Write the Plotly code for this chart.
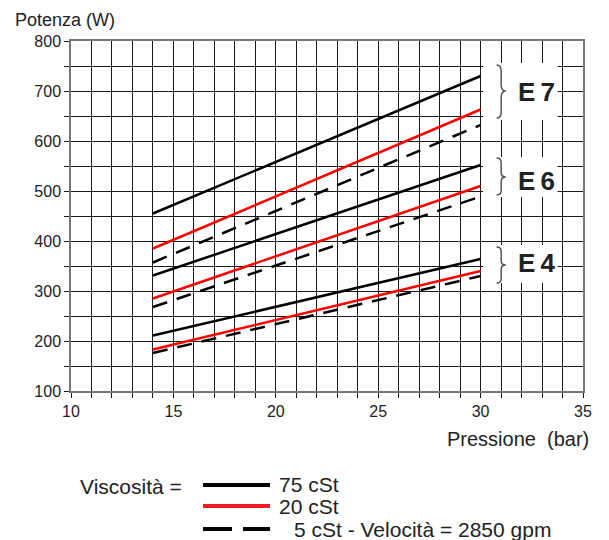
import plotly.graph_objects as go

# ---- data ----
pressure = [14, 30]
e7_75 = [455, 730]
e7_20 = [385, 663]
e7_5 = [357, 632]
e6_75 = [331, 552]
e6_20 = [285, 510]
e6_5 = [268, 489]
e4_75 = [211, 364]
e4_20 = [183, 340]
e4_5 = [176, 330]

group_names = ["E7", "E6", "E4"]
series_75 = [e7_75, e6_75, e4_75]
series_20 = [e7_20, e6_20, e4_20]
series_5 = [e7_5, e6_5, e4_5]

# brace / label layout (data units): label y, brace top, brace bottom, tip y, box bottom, box top
group_layout = [
    (699, 752, 646, 700, 642, 756),
    (520, 566, 492, 528, 488, 568),
    (357, 388, 316, 352, 316, 392),
]

fig = go.Figure()
for s75, s20, s5 in zip(series_75, series_20, series_5):
    fig.add_trace(go.Scatter(x=pressure, y=s75, mode="lines",
                             line=dict(color="black", width=2.5), showlegend=False))
    fig.add_trace(go.Scatter(x=pressure, y=s20, mode="lines",
                             line=dict(color="#ff0000", width=2.5), showlegend=False))
    fig.add_trace(go.Scatter(x=pressure, y=s5, mode="lines",
                             line=dict(color="black", width=2.5, dash="15px,10px"), showlegend=False))

shapes = []
annotations = []

def brace(x0, w, ytop, ybot, yc):
    d = (ytop - ybot) * 0.12
    xm = x0 + w / 2
    return (f"M {x0},{ytop} Q {xm},{ytop} {xm},{ytop-d} L {xm},{yc+d} "
            f"Q {xm},{yc} {x0+w},{yc} Q {xm},{yc} {xm},{yc-d} "
            f"L {xm},{ybot+d} Q {xm},{ybot} {x0},{ybot}")

for name, (ly, ytop, ybot, yc, bb, bt) in zip(group_names, group_layout):
    shapes.append(dict(type="rect", xref="x", yref="y", x0=30.12, x1=33.76, y0=bb, y1=bt,
                       fillcolor="white", line=dict(width=0), layer="above"))
    shapes.append(dict(type="path", xref="x", yref="y",
                       path=brace(30.78, 0.45, ytop, ybot, yc),
                       line=dict(color="#555555", width=1.5), layer="above"))
    annotations.append(dict(x=32.75, y=ly, xref="x", yref="y", text="<b>" + name[0] + "\u2009" + name[1] + "</b>",
                            showarrow=False, font=dict(size=26, color="#222222",
                                                       family="Liberation Sans, Arial")))

# pixel-placed texts (window pixels)
W, H = 609, 540
OFF = 8  # default body margin of the html page
L, R, T, B = 71, 26, 41, 149
FW, FH = W - OFF, H - OFF
pw, ph = FW - (L - OFF) - R, FH - (T - OFF) - B

def px(x):
    return (x - L) / pw

def py(y):
    return 1 - (y - T) / ph

def text_at(text, x, y, size, anchor="left"):
    annotations.append(dict(text=text, x=px(x), y=py(y), xref="paper", yref="paper",
                            xanchor=anchor, yanchor="middle", showarrow=False,
                            font=dict(size=size)))

text_at("Potenza (W)", 13, 20, 18)
text_at("Pressione  (bar)", 591, 439, 20, "right")
text_at("Viscosità =", 78, 486, 21)

legend_items = [("75 cSt", "black", "solid", 485, 277),
                ("20 cSt", "#ee1c25", "solid", 506, 277),
                ("5 cSt - Velocità = 2850 gpm", "black", "29px,11px", 529, 292)]
for label, col, dash, yy, tx in legend_items:
    shapes.append(dict(type="line", xref="paper", yref="paper", x0=px(203), x1=px(270),
                       y0=py(yy), y1=py(yy), line=dict(color=col, width=4, dash=dash)))
    text_at(label, tx, yy, 21)

fig.update_layout(
    width=FW, height=FH,
    margin=dict(l=L - OFF, r=R, t=T - OFF, b=B),
    paper_bgcolor="white", plot_bgcolor="white",
    font=dict(family="Liberation Sans, Arial", size=16, color="#222222"),
    shapes=shapes, annotations=annotations,
    showlegend=False,
)
axis_common = dict(showgrid=True, gridcolor="#1a1a1a", gridwidth=1,
                   ticks="outside", ticklen=5, tickcolor="#1a1a1a",
                   showline=True, linecolor="#777777", linewidth=1.5, mirror=True,
                   zeroline=False, tickfont=dict(size=16))
fig.update_xaxes(range=[10, 35], dtick=5, tick0=10,
                 minor=dict(dtick=1, showgrid=True, gridcolor="#1a1a1a", gridwidth=1,
                            ticks="outside", ticklen=5, tickcolor="#1a1a1a"),
                 **axis_common)
fig.update_yaxes(range=[100, 800], dtick=100, tick0=100,
                 minor=dict(dtick=50, showgrid=True, gridcolor="#1a1a1a", gridwidth=1,
                            ticks="outside", ticklen=5, tickcolor="#1a1a1a"),
                 **axis_common)

fig.write_html("out.html")
